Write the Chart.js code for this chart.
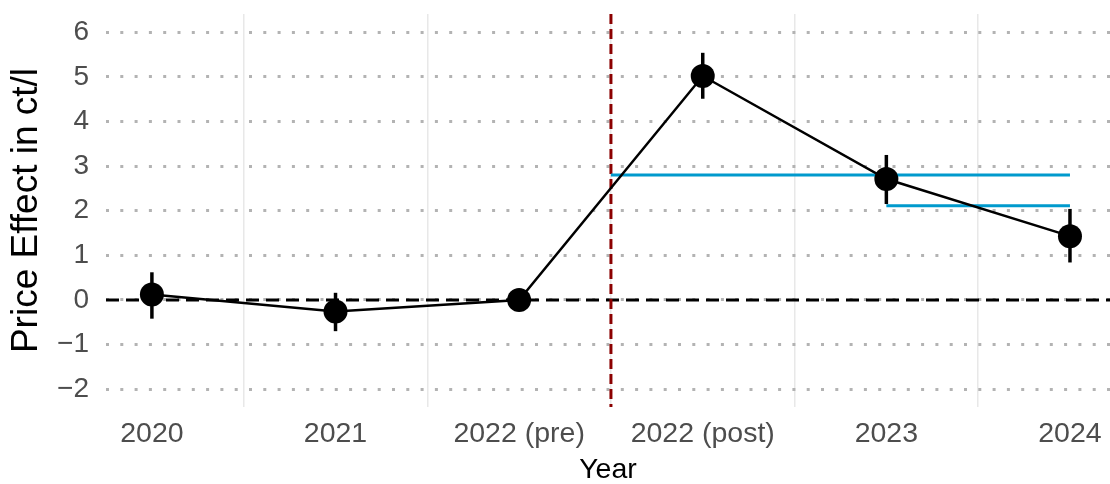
<!DOCTYPE html>
<html>
<head>
<meta charset="utf-8">
<script src="https://cdn.jsdelivr.net/npm/chart.js@4.4.1/dist/chart.umd.min.js"></script>
<style>
  html, body { margin: 0; padding: 0; background: #fff; }
</style>
</head>
<body>
<canvas id="chart" width="1110" height="484"></canvas>
<script>
// data
const years = ['2020', '2021', '2022 (pre)', '2022 (post)', '2023', '2024'];
const effect = [0.12, -0.26, 0, 5.02, 2.71, 1.43];
const ciLow = [-0.42, -0.70, 0, 4.51, 2.15, 0.84];
const ciHigh = [0.62, 0.16, 0, 5.54, 3.25, 2.04];
const yTicks = [-2, -1, 0, 1, 2, 3, 4, 5, 6];

// break between pre and post, and the two average lines
const breakAt = 2.5;
const avgFrom = [2.5, 4];
const avgTo = [5, 5];
const avgValue = [2.80, 2.11];

const FONT = "'Liberation Sans', Arial, sans-serif";

const refLines = {
  id: 'refLines',
  beforeDatasetsDraw(chart) {
    const { ctx, chartArea: a, scales: { x, y } } = chart;
    const seg = (x1, y1, x2, y2) => {
      ctx.beginPath(); ctx.moveTo(x1, y1); ctx.lineTo(x2, y2); ctx.stroke();
    };
    ctx.save();
    ctx.lineCap = 'butt';

    // zero line
    ctx.strokeStyle = '#000';
    ctx.lineWidth = 3;
    ctx.setLineDash([13, 7]);
    const y0 = y.getPixelForValue(0);
    seg(a.left, y0, a.right, y0);

    // pre / post break
    ctx.strokeStyle = '#8b0000';
    ctx.lineWidth = 3;
    ctx.setLineDash([10, 5]);
    const xb = x.getPixelForValue(breakAt);
    seg(xb, a.top, xb, a.bottom);

    // average effect lines
    ctx.setLineDash([]);
    ctx.strokeStyle = '#009acd';
    ctx.lineWidth = 3;
    avgValue.forEach((v, i) => {
      const py = y.getPixelForValue(v);
      seg(x.getPixelForValue(avgFrom[i]), py, x.getPixelForValue(avgTo[i]), py);
    });

    // error bars
    ctx.strokeStyle = '#000';
    ctx.lineWidth = 3.5;
    effect.forEach((v, i) => {
      if (ciLow[i] === ciHigh[i]) return;
      const px = x.getPixelForValue(i);
      seg(px, y.getPixelForValue(ciLow[i]), px, y.getPixelForValue(ciHigh[i]));
    });
    ctx.restore();
  }
};

new Chart(document.getElementById('chart'), {
  type: 'line',
  data: {
    datasets: [{
      data: effect.map((v, i) => ({ x: i, y: v })),
      borderColor: '#000',
      borderWidth: 2.5,
      backgroundColor: '#000',
      pointRadius: 12,
      pointBorderWidth: 0,
      tension: 0
    }]
  },
  options: {
    responsive: false,
    animation: false,
    layout: { autoPadding: false, padding: { top: 14, right: 0, bottom: 0, left: 0 } },
    plugins: { legend: { display: false }, tooltip: { enabled: false } },
    scales: {
      x: {
        type: 'linear',
        min: -0.25,
        max: 5.218,
        afterBuildTicks: s => {
          const t = [];
          for (let i = 0; i < years.length; i++) {
            t.push({ value: i });
            if (i < years.length - 1) t.push({ value: i + 0.5 });
          }
          s.ticks = t;
        },
        afterFit: s => { s.height = 77; s.paddingLeft = 0; s.paddingRight = 0; },
        grid: {
          drawTicks: false,
          lineWidth: 1.5,
          color: c => (c.tick && !Number.isInteger(c.tick.value)) ? '#e8e8e8' : 'rgba(0,0,0,0)'
        },
        border: { display: false },
        ticks: {
          autoSkip: false,
          maxRotation: 0,
          padding: 10,
          color: '#4d4d4d',
          font: { family: FONT, size: 28.5 },
          callback: v => Number.isInteger(v) ? years[v] : ''
        },
        title: {
          display: true,
          text: 'Year',
          color: '#000',
          font: { family: FONT, size: 28.5, lineHeight: 1 },
          padding: 0
        }
      },
      y: {
        min: -2.4,
        max: 6.41,
        afterBuildTicks: s => { s.ticks = yTicks.map(v => ({ value: v })); },
        afterFit: s => { s.width = 106; s.paddingTop = 0; s.paddingBottom = 0; },
        grid: { drawTicks: false, lineWidth: 3, color: '#b3b3b3' },
        border: { display: false, dash: [3, 11.3] },
        ticks: {
          padding: 17,
          color: '#4d4d4d',
          font: { family: FONT, size: 28 },
          callback: v => v < 0 ? '\u2212' + Math.abs(v) : String(v)
        },
        title: {
          display: true,
          text: 'Price Effect in ct/l',
          color: '#000',
          font: { family: FONT, size: 37 },
          padding: { top: 5, bottom: 0 }
        }
      }
    }
  },
  plugins: [refLines]
});
</script>
</body>
</html>
